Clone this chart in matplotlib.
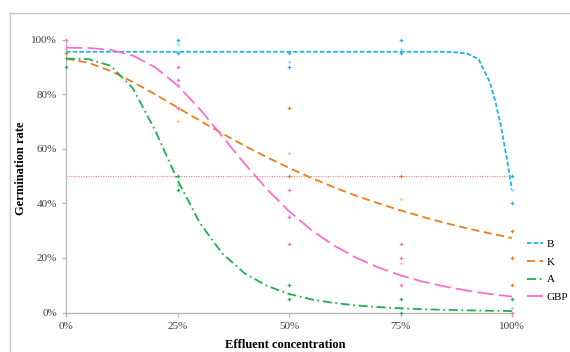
"""
germination rate vs effluent concentration
"""
import matplotlib.pyplot as plt
from matplotlib.lines import Line2D
import numpy as np

# concentrations of the tested effluent (fraction)
conc = [0.0, 0.25, 0.5, 0.75, 1.0]

# replicate points (x, y in %)
b_pts_x = [0.25, 0.25, 0.5, 0.5, 0.75, 0.75, 1.0, 1.0]
b_pts_y = [100, 95, 95, 90, 100, 95, 50, 40]
k_pts_x = [0.0, 0.25, 0.5, 0.5, 0.75, 1.0, 1.0, 1.0]
k_pts_y = [95, 75, 75, 50, 50, 30, 20, 10]
a_pts_x = [0.0, 0.25, 0.25, 0.5, 0.5, 0.75, 0.75, 1.0]
a_pts_y = [90, 50, 45, 10, 5, 5, 0, 5]
g_pts_x = [0.0, 0.25, 0.25, 0.25, 0.5, 0.5, 0.5, 0.75, 0.75, 0.75, 1.0]
g_pts_y = [100, 90, 85, 75, 45, 35, 25, 25, 20, 10, 0]

# means (light markers)
b_mean = [95, 98.3, 91.7, 96.7, 45]
k_mean = [93.3, 70, 58.3, 41.7, 20]
a_mean = [93.3, 46.7, 6.7, 1.7, 1.7]
g_mean = [96.7, 83.3, 35, 18.3, 0]

# fitted curves
fit_x = [0.0, 0.05, 0.10, 0.15, 0.20, 0.25, 0.30, 0.35, 0.40, 0.45, 0.50,
         0.55, 0.60, 0.65, 0.70, 0.75, 0.80, 0.85, 0.90, 0.95, 1.0]
k_fit = [93, 91.5, 88.5, 84.4, 79.9, 75.1, 70.3, 65.6, 61.1, 56.9, 53.0,
         49.3, 45.9, 42.8, 40.0, 37.4, 35.0, 32.8, 30.8, 29.0, 27.3]
a_fit = [93, 92.8, 90.4, 82.1, 66.7, 48.5, 32.8, 21.7, 14.4, 9.8, 6.8,
         4.8, 3.5, 2.6, 2.0, 1.55, 1.2, 0.97, 0.78, 0.64, 0.53]
g_fit = [97, 96.9, 96.2, 94.1, 89.8, 83.2, 74.5, 64.6, 54.6, 45.3, 37.1,
         30.2, 24.6, 20.1, 16.5, 13.6, 11.3, 9.5, 8.0, 6.8, 5.8]
b_fit_x = [0.0, 0.2, 0.4, 0.6, 0.8, 0.85, 0.875, 0.9, 0.925, 0.95,
           0.9625, 0.975, 0.9875, 1.0]
b_fit = [95.5, 95.5, 95.5, 95.5, 95.5, 95.5, 95.3, 94.8, 92.8, 84.5,
         77.4, 68.4, 57.2, 45.0]

ticks_y = [0, 20, 40, 60, 80, 100]
ticks_x = [0, 25, 50, 75, 100]

series = [
    ("B", b_fit_x, b_fit, b_pts_x, b_pts_y, b_mean, "#20B2EA", "#9BDDF6", (0, (2.5, 1.2))),
    ("K", fit_x, k_fit, k_pts_x, k_pts_y, k_mean, "#F07B1A", "#FBC98C", (0, (4.5, 2.5))),
    ("A", fit_x, a_fit, a_pts_x, a_pts_y, a_mean, "#1FAF50", "#A3E2B6", (0, (5, 2, 1, 2))),
    ("GBP", fit_x, g_fit, g_pts_x, g_pts_y, g_mean, "#FF6CCB", "#FFB8E6", (0, (9, 3))),
]

plt.rcParams["font.family"] = ["Liberation Serif", "DejaVu Serif"]

fig = plt.figure(figsize=(5.7, 3.52), dpi=100)
ax = fig.add_axes([66 / 570, 1 - 312.5 / 352, 446 / 570, 273 / 352])

# 50 % reference line
ax.plot([0, 1], [50, 50], color="#FF7C7C", lw=0.8, ls=(0, (1, 1.2)), zorder=1)

for name, fx, fy, px, py, pm, col, light, ls in series:
    ax.plot(conc, pm, ls="none", marker="P", ms=2.6, color=light, mew=0, clip_on=False, zorder=2)
    ax.plot(px, py, ls="none", marker="P", ms=2.6, color=col, mew=0, clip_on=False, zorder=3)
    ax.plot(fx, fy, color=col, lw=1.3, ls=ls, label=name, zorder=4)

ax.set_xlim(0, 1)
ax.set_ylim(0, 100)
ax.set_xticks([t / 100 for t in ticks_x])
ax.set_xticklabels([f"{t}%" for t in ticks_x])
ax.set_yticks(ticks_y)
ax.set_yticklabels([f"{t}%" for t in ticks_y])

for s in ["top", "right"]:
    ax.spines[s].set_visible(False)
for s in ["left", "bottom"]:
    ax.spines[s].set_color("#B5B5B5")
    ax.spines[s].set_linewidth(0.9)
ax.tick_params(colors="#B5B5B5", labelcolor="#404040", labelsize=8, length=3, width=0.9)

fig.text(285 / 570, 1 - 345 / 352, "Effluent concentration", fontsize=9,
         fontweight="bold", ha="center", va="center")
fig.text(21 / 570, 1 - 168 / 352, "Germination rate", fontsize=9,
         fontweight="bold", ha="center", va="center", rotation=90)

ax.legend(loc="upper left", bbox_to_anchor=(521 / 570, 1 - 234 / 352),
          bbox_transform=fig.transFigure, frameon=False, fontsize=8,
          handlelength=1.5, handletextpad=0.3, labelspacing=0.7, borderpad=0)

# outer chart border (gray)
fig.add_artist(Line2D([10.5 / 570, 10.5 / 570], [0, 1 - 12.5 / 352],
                      transform=fig.transFigure, color="#C8C8C8", lw=1))
fig.add_artist(Line2D([10.5 / 570, 1], [1 - 12.5 / 352, 1 - 12.5 / 352],
                      transform=fig.transFigure, color="#C8C8C8", lw=1))

fig.savefig("out.png", dpi=100)
